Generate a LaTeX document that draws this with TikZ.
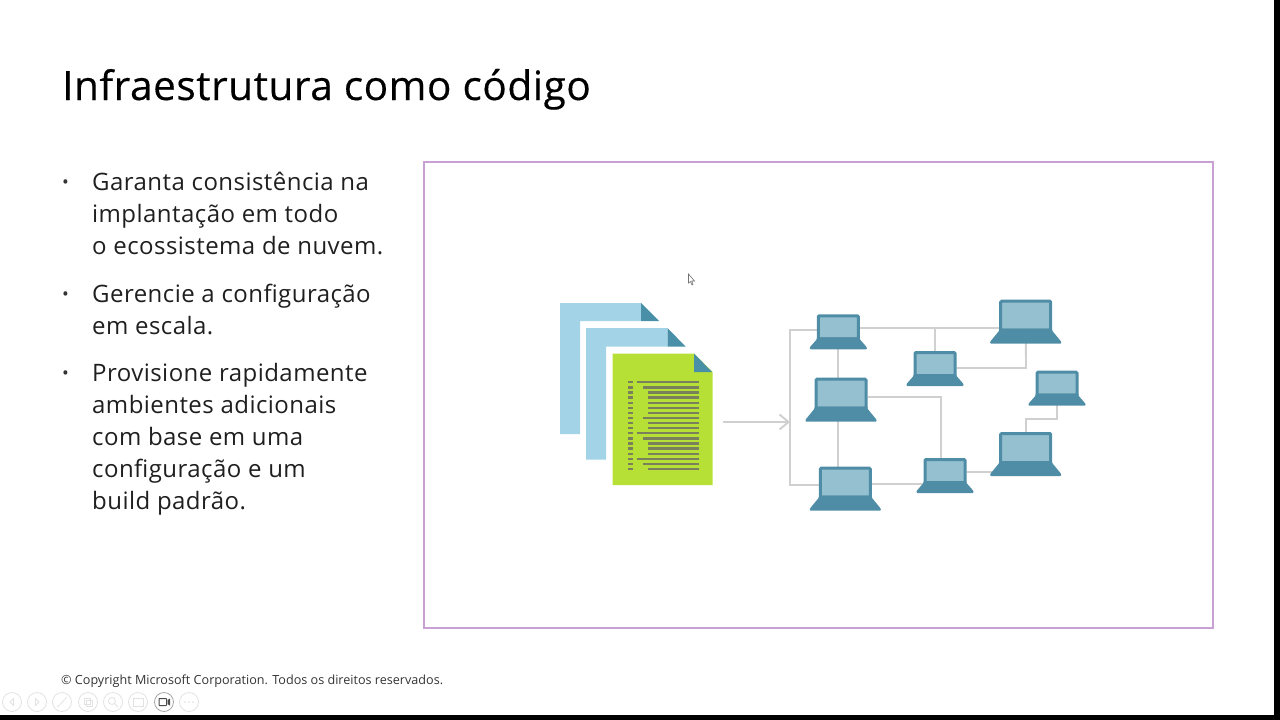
\documentclass[tikz,border=0pt]{standalone}
\usepackage{fontspec}
\setmainfont{Open Sans}
\newfontfamily\titlefont[LetterSpace=1.4, FakeBold=0.35]{Open Sans}
\newfontfamily\listfont[LetterSpace=1.9]{Open Sans}
\usetikzlibrary{arrows.meta, calc, backgrounds}
\definecolor{framepurple}{RGB}{201,160,212}
\definecolor{pageblue}{RGB}{163,211,230}
\definecolor{pagegreen}{RGB}{182,224,54}
\definecolor{foldteal}{RGB}{74,143,168}
\definecolor{lapteal}{RGB}{79,141,166}
\definecolor{lapscreen}{RGB}{148,192,207}
\definecolor{wiregray}{RGB}{208,208,208}
\definecolor{codegray}{RGB}{122,128,92}
\definecolor{iconsgray}{RGB}{226,226,226}
\tikzset{
    bodytext/.style={anchor=north west, inner sep=0pt, align=left, text=black!88, font=\listfont\fontsize{24}{32}\selectfont},
    bullettext/.style={anchor=center, inner sep=0pt, text=black!80, font=\fontsize{18}{18}\selectfont},
    wire/.style={draw=wiregray, line width=1.9pt},
    iconring/.style={draw=iconsgray, line width=0.8pt, circle, minimum size=19pt, inner sep=0pt},
    screenbox/.style={draw=lapteal, fill=lapscreen, line width=3pt, rounded corners=1pt, inner sep=0pt, anchor=north},
    pics/laptop/.style n args={4}{code={
        \node[screenbox, minimum width=#1pt-3pt, minimum height=#2pt-3pt] (-screen) at (0,0) {};
        \fill[lapteal, rounded corners=0.8pt] (-#1/2,#2-3) -- (#1/2,#2-3) -- (#1/2,#2-1) -- (#3/2,#4-2) -- (#3/2,#4) -- (-#3/2,#4) -- (-#3/2,#4-2) -- (-#1/2,#2-1) -- cycle;
    }},
    pics/laptopsmall/.style={/tikz/pics/laptop={43}{26}{57}{35}},
    pics/laptoplarge/.style={/tikz/pics/laptop={53}{32}{71}{44}},
}

\begin{document}
\begin{tikzpicture}[x=1pt, y=-1pt, >=Stealth]
    \useasboundingbox (0,0) rectangle (1280,720);

    % Slide edges
    \fill[black] (1274,0) rectangle (1280,720);
    \fill[black] (0,715) rectangle (1280,720);

    % Title
    \node[anchor=base west, inner sep=0pt, text=black, font=\titlefont\fontsize{40.5}{44}\selectfont] (title) at (62,100) {Infraestrutura como código};

    % Bullet list
    \node[bodytext] (itemA) at (92,172) {Garanta consistência na\\implantação em todo\\o ecossistema de nuvem.};
    \node[bodytext] (itemB) at (92,284) {Gerencie a configuração\\em escala.};
    \node[bodytext] (itemC) at (92,363) {Provisione rapidamente\\ambientes adicionais\\com base em uma\\configuração e um\\build padrão.};
    \node[bullettext] (dotA) at (65.5,184) {•};
    \node[bullettext] (dotB) at (65.5,296) {•};
    \node[bullettext] (dotC) at (65.5,375) {•};

    % Frame
    \draw[framepurple, line width=2pt] (423.5,162) rectangle (1213,628);

    % Pointer
    \draw[black!55, fill=white, line width=0.6pt] (688.5,274) -- (688.5,283) -- (690.5,281.5) -- (692,285) -- (693,284.5) -- (691.8,281) -- (694.5,281) -- cycle;

    % Documents
    \fill[pageblue] (560,303) -- (641,303) -- (641,321) -- (580,321) -- (580,434) -- (560,434) -- cycle;
    \fill[foldteal] (641,303) -- (659,321) -- (641,321) -- cycle;
    \fill[pageblue] (586,328) -- (667.5,328) -- (667.5,346.5) -- (606,346.5) -- (606,459.5) -- (586,459.5) -- cycle;
    \fill[foldteal] (667.5,328) -- (685.5,346.5) -- (667.5,346.5) -- cycle;
    \fill[pagegreen] (612.5,353.5) -- (694,353.5) -- (712.5,372) -- (712.5,485) -- (612.5,485) -- cycle;
    \fill[foldteal] (694,353.5) -- (712,372) -- (694,372) -- cycle;

    % Code lines
    \foreach \xs [count=\i from 0] in {636.7,643.3,648.3,648.3,648.3,648.3,648.3,643.3,648.3,648.3,636.7,643.3,648.3,648.3,648.3,636.7,643.3,648.3} {
        \draw[codegray, line width=2.3pt] (\xs,{382.3+5.1*\i}) -- (698.7,{382.3+5.1*\i});
        \draw[codegray, line width=2.3pt] (628.3,{382.3+5.1*\i}) -- (633.3,{382.3+5.1*\i});
    }

    % Laptops
    \pic (lapA) at (838.3,314.3) {laptopsmall};
    \pic (lapB) at (1025.7,299.7) {laptoplarge};
    \pic (lapC) at (935,351) {laptopsmall};
    \pic (lapD) at (841,377.7) {laptoplarge};
    \pic (lapE) at (1057,370.7) {laptopsmall};
    \pic (lapF) at (1025.7,432) {laptoplarge};
    \pic (lapG) at (845.3,466.7) {laptoplarge};
    \pic (lapH) at (945,458) {laptopsmall};

    % Connectors
    \coordinate (busTop) at (790,330);
    \coordinate (busBottom) at (790,485);
    \coordinate (topLine) at (935,328);
    \coordinate (arrowStart) at (723,422);
    \coordinate (arrowEnd) at (790,422);
    \coordinate (jogRight) at (1057,419);
    \begin{scope}[on background layer]
        \draw[wire] (lapA-screen.west |- busTop) -- (busTop) -- (busBottom) -- (lapG-screen.west |- busBottom);
        \draw[wire] (lapA-screen.east |- topLine) -- (lapB-screen.west |- topLine);
        \draw[wire] (topLine) -- (lapC-screen);
        \draw[wire] (lapC-screen.east |- 0,368) -- (1026,368) -- (lapB-screen);
        \draw[wire] (lapA-screen) -- (lapA-screen |- lapD-screen.north);
        \draw[wire] (lapD-screen.east |- 0,397) -- (941,397) -- (941,458);
        \draw[wire] (838,410) -- (838,466.7);
        \draw[wire] (lapG-screen.east |- 0,484) -- (lapH-screen.west |- 0,484);
        \draw[wire] (lapH-screen.east |- 0,472) -- (lapF-screen.west |- 0,472);
        \draw[wire] (lapF-screen) -- (lapF-screen |- jogRight) -- (jogRight) -- (1057,400);
    \end{scope}
    \draw[wire, -{Straight Barb[length=9pt, width=15pt]}] (arrowStart) -- (arrowEnd);

    % Footer
    \node[anchor=base west, inner sep=0pt, text=black!80, font=\fontsize{12.6}{15}\selectfont] (copyright) at (61,684) {© Copyright Microsoft Corporation. Todos os direitos reservados.};

    % Toolbar
    \foreach \xc [count=\i] in {12,37,62,88,113,138,189} {
        \node[iconring] (ring\i) at (\xc,702) {};
    }
    \node[iconring, draw=black!35, fill=white] (ringVideo) at (164,702) {};
    \draw[black!70, line width=1pt, rounded corners=0.5pt] (159,698.5) rectangle (166.5,705.5);
    \fill[black!70] (167.5,700) -- (170,698.5) -- (170,705.5) -- (167.5,704) -- cycle;
    \draw[iconsgray, line width=0.8pt] (13.5,698.5) -- (10,702) -- (13.5,705.5) -- cycle;
    \draw[iconsgray, line width=0.8pt] (35.5,698.5) -- (39,702) -- (35.5,705.5) -- cycle;
    \draw[iconsgray, line width=0.8pt] (57.5,707) -- (66.5,697.5);
    \draw[iconsgray, line width=0.8pt] (84,698) rectangle (90,704) (86,700) rectangle (92,706);
    \draw[iconsgray, line width=0.8pt] (112,701) circle (3.5pt) (114.5,703.5) -- (118,707);
    \draw[iconsgray, line width=0.8pt] (133,698) rectangle (143,706);
    \fill[iconsgray] (185,702) circle (1pt) (189,702) circle (1pt) (193,702) circle (1pt);
\end{tikzpicture}
\end{document}
